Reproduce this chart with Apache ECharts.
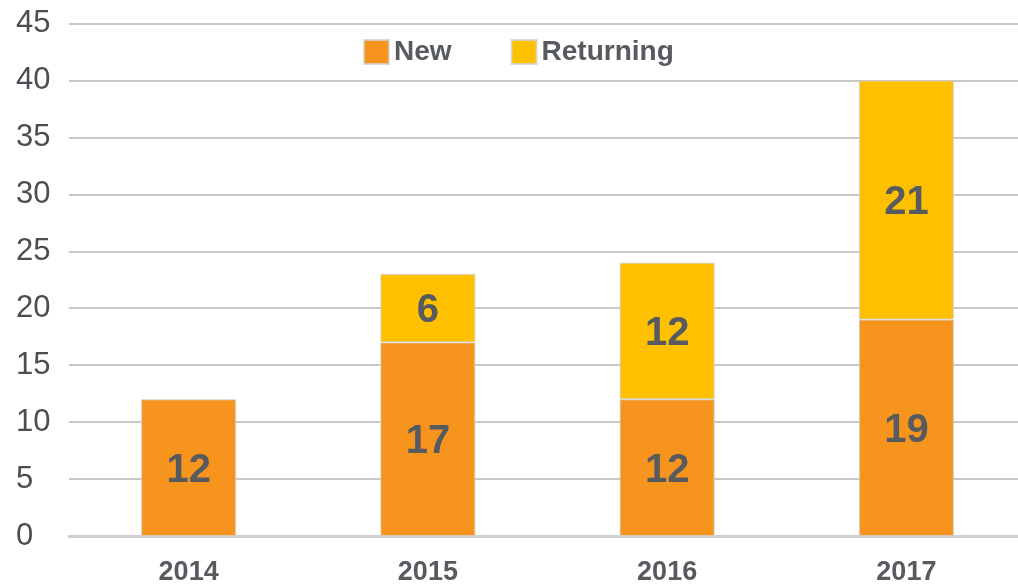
<!DOCTYPE html>
<html>
<head>
<meta charset="utf-8">
<style>
  html, body { margin: 0; padding: 0; background: #fff; overflow: hidden; }
  #chart { width: 1026px; height: 586px; }
</style>
<script src="https://cdn.jsdelivr.net/npm/echarts@6/dist/echarts.min.js"></script>
</head>
<body>
<div id="chart"></div>
<script>
const years = ['2014', '2015', '2016', '2017']
const newVisitors = [12, 17, 12, 19]
const returningVisitors = [null, 6, 12, 21]

const chart = echarts.init(document.getElementById('chart'))
const textColor = '#575b60'
const font = 'Liberation Sans, Arial, sans-serif'
const labelStyle = {
  show: true,
  position: 'inside',
  color: textColor,
  fontFamily: font,
  fontSize: 40,
  fontWeight: 'bold',
  offset: [0, 3]
}
chart.setOption({
  animation: false,
  legend: {
    data: ['New', 'Returning'],
    left: 358,
    top: 33,
    itemWidth: 25,
    itemHeight: 24,
    itemGap: 59,
    icon: 'rect',
    textStyle: {
      color: textColor,
      fontFamily: font,
      fontSize: 28,
      fontWeight: 'bold'
    }
  },
  grid: { left: 69, right: 0, top: 23.5, bottom: 49 },
  xAxis: {
    type: 'category',
    data: years,
    axisTick: { show: false },
    axisLine: { lineStyle: { color: '#d0d0d0', width: 3 } },
    axisLabel: {
      color: textColor,
      fontFamily: font,
      fontSize: 27,
      fontWeight: 'bold',
      margin: 23
    }
  },
  yAxis: {
    type: 'value',
    min: 0,
    max: 45,
    interval: 5,
    axisLine: { show: false },
    axisTick: { show: false },
    splitLine: { lineStyle: { color: '#c8c8c8', width: 2 } },
    axisLabel: {
      color: '#4a4e52',
      fontFamily: font,
      fontSize: 31,
      align: 'left',
      margin: 53
    }
  },
  series: [
    {
      name: 'New',
      type: 'bar',
      stack: 'total',
      barWidth: 95,
      data: newVisitors,
      itemStyle: { color: '#f7941d', borderColor: 'rgba(210,210,210,0.8)', borderWidth: 1 },
      label: labelStyle
    },
    {
      name: 'Returning',
      type: 'bar',
      stack: 'total',
      barWidth: 95,
      data: returningVisitors,
      itemStyle: { color: '#ffc000', borderColor: 'rgba(210,210,210,0.8)', borderWidth: 1 },
      label: labelStyle
    }
  ]
})
</script>
</body>
</html>
